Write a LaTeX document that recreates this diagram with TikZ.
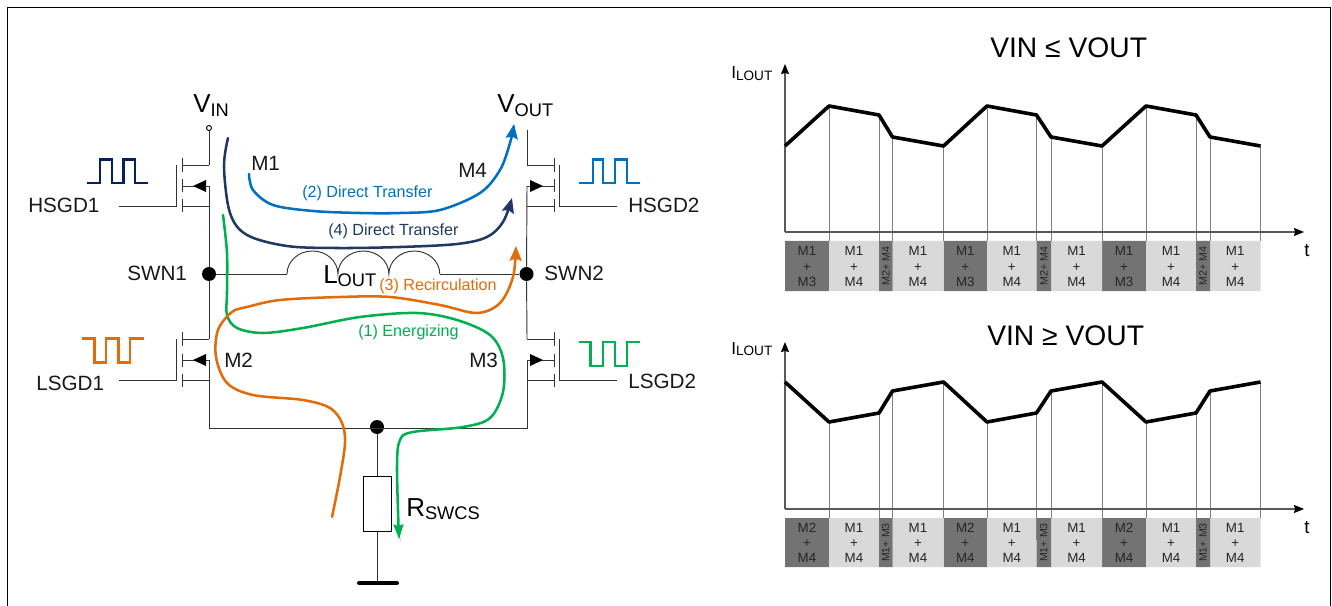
\documentclass[tikz,border=0pt]{standalone}
\usepackage{fontspec}
\setmainfont{Liberation Sans}
\usepackage{tikz}
\usetikzlibrary{arrows.meta,positioning,calc}
\definecolor{pulsenavy}{HTML}{002060}
\definecolor{pathnavy}{HTML}{1F3864}
\definecolor{pathblue}{HTML}{0070C0}
\definecolor{pathorange}{HTML}{E36C0A}
\definecolor{pathgreen}{HTML}{00B050}
\definecolor{celldark}{HTML}{737373}
\definecolor{celllight}{HTML}{D9D9D9}
\definecolor{axisgrey}{HTML}{595959}
\definecolor{dropgrey}{HTML}{808080}
\newcommand{\subtxt}[2]{#1\raisebox{-2.6pt}{\fontsize{13.7}{15}\selectfont #2}}
\newcommand{\subsmall}[2]{#1\raisebox{-1pt}{\fontsize{10.2}{12}\selectfont #2}}
\begin{document}
\begin{tikzpicture}[x=0.75pt,y=-0.75pt,
    every node/.style={inner sep=0pt,anchor=base west},
    wire/.style={line width=0.7pt,black!80},
    dot/.style={circle,fill=black,minimum size=10.5pt,anchor=center},
    biglabel/.style={font=\fontsize{19.5}{21}\selectfont},
    midlabel/.style={font=\fontsize{15.5}{17}\selectfont,text=black!90},
    flowlabel/.style={font=\fontsize{12.1}{14}\selectfont},
    current/.style={line width=1.9pt,line cap=round},
    currenttip/.style={current,-{Stealth[length=11pt,width=9pt,inset=1.5pt]}},
    pulse/.style={line width=1.9pt},
    axisline/.style={line width=0.9pt,axisgrey,-{Stealth[length=7.5pt,width=6pt,inset=0.8pt,black]}},
    dropline/.style={line width=0.7pt,dropgrey},
    wave/.style={line width=2.7pt,black,line join=round},
    celltext/.style={anchor=center,align=center,text=black!85,font=\fontsize{10}{11.4}\selectfont},
    narrowtext/.style={anchor=center,rotate=90,text=black!85,font=\fontsize{8}{9}\selectfont},
    charttitle/.style={font=\fontsize{21.2}{23}\selectfont}]
    \useasboundingbox (0,0) rectangle (1332,606);
    % outer frame, open at the bottom
    \coordinate (frameA) at (7.5,606);
    \coordinate (frameB) at (7.5,7.5);
    \coordinate (frameC) at (1330.3,7.5);
    \coordinate (frameD) at (1330.3,606);
    \draw [line width=1.2pt] (frameA) -- (frameB) -- (frameC) -- (frameD);

    % transistors
    \foreach \fx/\fy/\dir/\name in {209/165/1/hsa,209/339/1/lsa,527/165/-1/hsb,527/339/-1/lsb}{
        \coordinate (\name top) at (\fx,\fy);
        \coordinate (\name mid) at (\fx,\fy+21);
        \coordinate (\name low) at (\fx,\fy+41);
        \coordinate (\name gate) at (\fx-\dir*32.5,\fy+41);
        \coordinate (\name lead) at (\fx-\dir*90,\fy+41);
        \coordinate (\name gatetop) at (\fx-\dir*32.5,\fy);
        \draw [wire] (\name top) -- ++(-\dir*27,0) ++(0,-7) -- ++(0,14);
        \draw [wire] (\name mid) -- ++(-\dir*27,0) ++(0,-6.5) -- ++(0,13);
        \draw [wire] (\name low) -- ++(-\dir*27,0) ++(0,-6.5) -- ++(0,13);
        \draw [wire] (\name gatetop) -- (\name gate) -- (\name lead);
        \fill [black] ($(\name mid)+(-\dir*16,0)$) -- ++(\dir*13,-6) -- ++(0,12) -- cycle;
    }

    % main wires
    \node [circle,draw,fill=white,line width=0.7pt,minimum size=3.75pt,anchor=center] (vinpad) at (209,128) {};
    \coordinate (voutend) at (527,130);
    \node [dot] (swna) at (209,274) {};
    \node [dot] (swnb) at (526.5,274) {};
    \node [dot] (sense) at (377,427) {};
    \coordinate (railL) at (209,428);
    \coordinate (railR) at (527,428);
    \node [draw,line width=0.7pt,minimum width=21pt,minimum height=41.25pt,anchor=center] (rswcs) at (377,503.5) {};
    \coordinate (gnd) at (377,583);
    \coordinate (gndL) at (359,583);
    \coordinate (gndR) at (397,583);
    \draw [wire] (vinpad) -- (hsatop);
    \draw [wire] (hsamid) -- (swna) -- (lsatop);
    \draw [wire] (lsamid) -- (railL) -- (railR) -- (lsbmid);
    \draw [wire] (lsbtop) -- (swnb) -- (hsbmid);
    \draw [wire] (hsbtop) -- (voutend);
    \draw [wire] (sense) -- (rswcs) -- (gnd);
    \draw [line width=3pt,line cap=round] (gndL) -- (gndR);

    % inductor
    \coordinate (inda) at (287,274);
    \coordinate (indb) at (440,274);
    \draw [wire] (swna) -- (inda);
    \draw [wire] (inda) arc[start angle=180,end angle=0,x radius=19.1pt,y radius=17.25pt]
        arc[start angle=180,end angle=0,x radius=19.1pt,y radius=17.25pt]
        arc[start angle=180,end angle=0,x radius=19.1pt,y radius=17.25pt];
    \draw [wire] (indb) -- (swnb);

    % gate pulses
    \draw [pulse,pulsenavy] (87,183) -- (100,183) -- (100,159.5) -- (112,159.5) -- (112,183) -- (123.5,183) -- (123.5,159.5) -- (135,159.5) -- (135,183) -- (147.5,183);
    \draw [pulse,pathblue] (579,183) -- (593,183) -- (593,159.5) -- (603,159.5) -- (603,183) -- (615,183) -- (615,159.5) -- (627,159.5) -- (627,183) -- (640,183);
    \draw [pulse,pathorange] (82,338.5) -- (94.5,338.5) -- (94.5,362.5) -- (106,362.5) -- (106,338.5) -- (118.5,338.5) -- (118.5,362.5) -- (130,362.5) -- (130,338.5) -- (144,338.5);
    \draw [pulse,pathgreen] (578.5,342) -- (590.5,342) -- (590.5,366) -- (603,366) -- (603,342) -- (615,342) -- (615,366) -- (627,366) -- (627,342) -- (640,342);

    % current paths
    \draw [current,pathgreen,-{Stealth[length=11pt,width=7.5pt,inset=1.5pt]}] plot[smooth,tension=0.55] coordinates {(223,215) (227,253) (227,293) (227,315) (237,328) (263,333) (303,328) (360,317) (417,313) (457,320) (490,335) (503,358) (503,392) (490,418) (463,427) (413,432) (400,440) (397,467) (399,539)};
    \draw [currenttip,pathorange] plot[smooth,tension=0.55] coordinates {(332,517) (340,477) (345,443) (342,423) (330,408) (303,400) (253,395) (227,383) (216,357) (218,330) (232,312) (247,307) (280,300) (340,297) (390,297) (440,305) (477,313) (500,303) (513,277) (516,246)};
    \draw [currenttip,pathnavy] plot[smooth,tension=0.55] coordinates {(228,138) (224,167) (230,213) (247,235) (287,246) (337,248) (400,247) (457,244) (487,237) (503,222) (512,198)};
    \draw [currenttip,pathblue] plot[smooth,tension=0.55] coordinates {(249,174) (253,190) (273,205) (313,211) (360,213) (400,213) (440,210) (480,193) (500,170) (510,143) (514,124)};

    % circuit labels
    \node [biglabel] (lblvin) at (193,113) {\subtxt{V}{IN}};
    \node [biglabel] (lblvout) at (497,113) {\subtxt{V}{OUT}};
    \node [biglabel] (lbllout) at (323,283) {\subtxt{L}{OUT}};
    \node [biglabel] (lblrswcs) at (406,516) {\subtxt{R}{SWCS}};
    \foreach \lx/\ly/\lname/\ltext in {28/213/hsgda/HSGD1,628/213/hsgdb/HSGD2,36/390/lsgda/LSGD1,628/388/lsgdb/LSGD2,127/281/swnatxt/SWN1,544/281/swnbtxt/SWN2,251/171/mone/M1,458/178/mfour/M4,224/367/mtwo/M2,469/367/mthree/M3}
        \node [midlabel] (\lname) at (\lx,\ly) {\ltext};
    \node [flowlabel,text=pathblue] (flowtwo) at (302,198) {(2) Direct Transfer};
    \node [flowlabel,text=pathnavy] (flowfour) at (328,235) {(4) Direct Transfer};
    \node [flowlabel,text=pathorange] (flowthree) at (379,290) {(3) Recirculation};
    \node [flowlabel,text=pathgreen] (flowone) at (358,336) {(1) Energizing};

    % upper chart
    \fill [celldark] (785,241) rectangle (829,291) (943.5,241) rectangle (987,291) (1102,241) rectangle (1146,291);
    \fill [celllight] (829,241) rectangle (879,291) (892.5,241) rectangle (943.5,291) (987,241) rectangle (1036.5,291) (1051,241) rectangle (1102,291) (1146,241) rectangle (1196,291) (1210,241) rectangle (1260.5,291);
    \fill [celldark] (879,241) rectangle (892.5,291) (1036.5,241) rectangle (1051,291) (1196,241) rectangle (1210,291);
    \foreach \px/\py in {829/106,879/115,892.5/137,943.5/146,987/106,1036.5/115,1051/137,1102/146,1146/106,1196/115,1210/137,1260.5/146}
        \draw [dropline] (\px,\py) -- (\px,241);
    \coordinate (upO) at (785,232);
    \coordinate (upY) at (785,64);
    \coordinate (upX) at (1304,232);
    \draw [axisline] (upO) -- (upY);
    \draw [axisline] (upO) -- (upX);
    \draw [wave] (785,146) -- (829,106) -- (879,115) -- (892.5,137) -- (943.5,146) -- (987,106) -- (1036.5,115) -- (1051,137) -- (1102,146) -- (1146,106) -- (1196,115) -- (1210,137) -- (1260.5,146);
    \foreach \cx [count=\i] in {807,965.3,1124}
        \node [celltext] (updark\i) at (\cx,266.5) {M1\\+\\M3};
    \foreach \cx [count=\i] in {854,918,1011.8,1076.5,1171,1235.2}
        \node [celltext] (uplight\i) at (\cx,266.5) {M1\\+\\M4};
    \foreach \cx [count=\i] in {885.8,1043.8,1203}
        \node [narrowtext] (upnarrow\i) at (\cx,266) {M2+ M4};
    \node [charttitle] (uptitle) at (990,57.5) {VIN ≤ VOUT};
    \node [font=\fontsize{13}{15}\selectfont] (upilout) at (731,79) {\subsmall{I}{LOUT}};
    \node [font=\fontsize{14}{16}\selectfont] (uptee) at (1304,257) {t};

    % lower chart
    \fill [celldark] (785,518) rectangle (829,567) (943.5,518) rectangle (987,567) (1102,518) rectangle (1146,567);
    \fill [celllight] (829,518) rectangle (879,567) (892.5,518) rectangle (943.5,567) (987,518) rectangle (1036.5,567) (1051,518) rectangle (1102,567) (1146,518) rectangle (1196,567) (1210,518) rectangle (1260.5,567);
    \fill [celldark] (879,518) rectangle (892.5,567) (1036.5,518) rectangle (1051,567) (1196,518) rectangle (1210,567);
    \foreach \px/\py in {829/422,879/413,892.5/391,943.5/382,987/422,1051/391,1102/382,1146/422,1196/413,1210/391,1260.5/382}
        \draw [dropline] (\px,\py) -- (\px,518);
    \draw [dropline] (1036.5,413) -- (1036.5,540);
    \coordinate (loO) at (785,509);
    \coordinate (loY) at (785,342);
    \coordinate (loX) at (1304,509);
    \draw [axisline] (loO) -- (loY);
    \draw [axisline] (loO) -- (loX);
    \draw [wave] (785,382) -- (829,422) -- (879,413) -- (892.5,391) -- (943.5,382) -- (987,422) -- (1036.5,413) -- (1051,391) -- (1102,382) -- (1146,422) -- (1196,413) -- (1210,391) -- (1260.5,382);
    \foreach \cx [count=\i] in {807,965.3,1124}
        \node [celltext] (lodark\i) at (\cx,543) {M2\\+\\M4};
    \foreach \cx [count=\i] in {854,918,1011.8,1076.5,1171,1235.2}
        \node [celltext] (lolight\i) at (\cx,543) {M1\\+\\M4};
    \foreach \cx [count=\i] in {885.8,1043.8,1203}
        \node [narrowtext] (lonarrow\i) at (\cx,542.5) {M1+ M3};
    \node [charttitle] (lotitle) at (987,345) {VIN ≥ VOUT};
    \node [font=\fontsize{13}{15}\selectfont] (loilout) at (731,354) {\subsmall{I}{LOUT}};
    \node [font=\fontsize{14}{16}\selectfont] (lotee) at (1304,533) {t};
\end{tikzpicture}
\end{document}
